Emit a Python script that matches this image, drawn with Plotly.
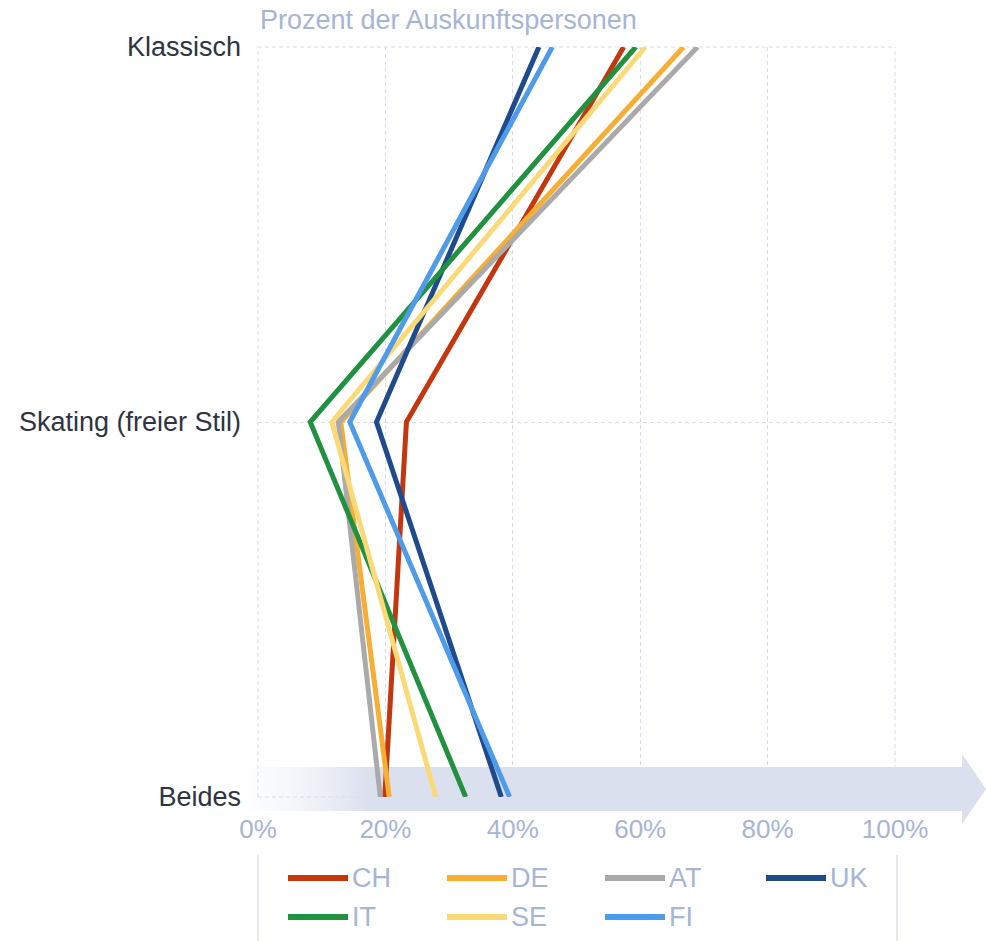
import plotly.graph_objects as go

# ---------------- data ----------------
categories = ["Beides", "Skating (freier Stil)", "Klassisch"]
cat_pos = [0, 1, 2]
countries = ["CH", "DE", "AT", "UK", "IT", "SE", "FI"]
colors = ["#c4360e", "#f7ae35", "#aaaaaa", "#1f4a8b", "#21913f", "#fbd977", "#4e9ce9"]
# values ordered as [Beides, Skating, Klassisch]
ch = [19.9, 23.3, 57.4]
de = [20.6, 13.0, 66.8]
at = [19.2, 12.6, 69.0]
uk = [38.2, 18.6, 44.1]
it = [32.6, 8.2, 59.3]
se = [27.9, 11.6, 60.8]
fi = [39.5, 14.4, 46.2]
series = [ch, de, at, uk, it, se, fi]
x_ticks = [0, 20, 40, 60, 80, 100]
x_ticktext = ["0%", "20%", "40%", "60%", "80%", "100%"]
title_text = "Prozent der Auskunftspersonen"

# ---------------- layout geometry (page pixel coords) ----------------
W, H = 986, 941
L, R, T, B = 258, 895, 47, 797  # plot area

def px_x(p):
    return (p - L) / (R - L)

def px_y(p):
    return (B - p) / (B - T)

FONT = "Liberation Sans, Arial, sans-serif"
FS = 27
LIGHT = "#a7b5d5"
GRID = "#d9ddf0"

fig = go.Figure()
for name, vals, col in zip(countries, series, colors):
    fig.add_trace(go.Scatter(
        x=vals, y=cat_pos, mode="lines", name=name,
        line=dict(color=col, width=5), showlegend=False,
    ))

shapes = []
# edge gridlines (dashed) that plotly omits at range boundaries
for xp in (L, R):
    shapes.append(dict(type="line", xref="paper", yref="paper",
                       x0=px_x(xp), x1=px_x(xp), y0=0, y1=1,
                       line=dict(color=GRID, width=1, dash="4px,3px"), layer="below"))
for yp in (T, B):
    shapes.append(dict(type="line", xref="paper", yref="paper",
                       x0=0, x1=1, y0=px_y(yp), y1=px_y(yp),
                       line=dict(color=GRID, width=1, dash="4px,3px"), layer="below"))

# arrow band with gradient on the left
band_col = (219, 224, 238)
gx0, gx1, steps = 236, 372, 34
step = (gx1 - gx0) / steps
by0, by1 = 767, 811
for i in range(steps):
    a = (i + 1) / steps
    shapes.append(dict(type="rect", xref="paper", yref="paper",
                       x0=px_x(gx0 + i * step), x1=px_x(gx0 + (i + 1) * step),
                       y0=px_y(by1), y1=px_y(by0),
                       fillcolor=f"rgba({band_col[0]},{band_col[1]},{band_col[2]},{a**1.5:.3f})",
                       line=dict(width=0), layer="between"))
shapes.append(dict(type="rect", xref="paper", yref="paper",
                   x0=px_x(gx1), x1=px_x(963), y0=px_y(by1), y1=px_y(by0),
                   fillcolor=f"rgb{band_col}", line=dict(width=0), layer="between"))
head = (f"M {px_x(962)} {px_y(754)} L {px_x(986)} {px_y(789)} "
        f"L {px_x(962)} {px_y(824)} Z")
shapes.append(dict(type="path", xref="paper", yref="paper", path=head,
                   fillcolor=f"rgb{band_col}", line=dict(width=0), layer="between"))

# legend frame lines
for xp in (258, 897):
    shapes.append(dict(type="line", xref="paper", yref="paper",
                       x0=px_x(xp), x1=px_x(xp), y0=px_y(855), y1=px_y(945),
                       line=dict(color="#dde1ef", width=1.5)))

annotations = [dict(text=title_text, xref="paper", yref="paper",
                    x=px_x(258), y=px_y(20), xanchor="left", yanchor="middle",
                    showarrow=False, font=dict(family=FONT, size=FS, color=LIGHT))]

# custom legend
leg_x = [288, 447, 605, 766]
leg_y = [878, 917]
for i, (name, col) in enumerate(zip(countries, colors)):
    r, c = divmod(i, 4)
    x0 = leg_x[c]
    y = leg_y[r]
    shapes.append(dict(type="line", xref="paper", yref="paper",
                       x0=px_x(x0), x1=px_x(x0 + 60), y0=px_y(y), y1=px_y(y),
                       line=dict(color=col, width=6)))
    annotations.append(dict(text=name, xref="paper", yref="paper",
                            x=px_x(x0 + 62), y=px_y(y), xanchor="left", yanchor="middle",
                            showarrow=False, font=dict(family=FONT, size=FS, color=LIGHT)))

fig.update_layout(
    width=W, height=H,
    margin=dict(l=L, r=W - R, t=T, b=H - B, pad=0),
    paper_bgcolor="white", plot_bgcolor="rgba(0,0,0,0)",
    showlegend=False,
    shapes=shapes, annotations=annotations,
    xaxis=dict(range=[0, 100], tickvals=x_ticks, ticktext=x_ticktext,
               showgrid=True, gridcolor=GRID, griddash="4px,3px", gridwidth=1,
               zeroline=False, showline=False, ticks="",
               ticklabelstandoff=14,
               tickfont=dict(family=FONT, size=FS - 1, color=LIGHT)),
    yaxis=dict(range=[0, 2], tickvals=cat_pos, ticktext=categories,
               showgrid=True, gridcolor=GRID, griddash="4px,3px", gridwidth=1,
               zeroline=False, showline=False, ticks="",
               ticklabelstandoff=16,
               tickfont=dict(family=FONT, size=FS, color="#2e3440")),
    hovermode=False,
)

fig.write_html("out.html",
               config={"displayModeBar": False, "staticPlot": True},
               post_script="document.body.style.margin='0';document.body.style.overflow='hidden';")
